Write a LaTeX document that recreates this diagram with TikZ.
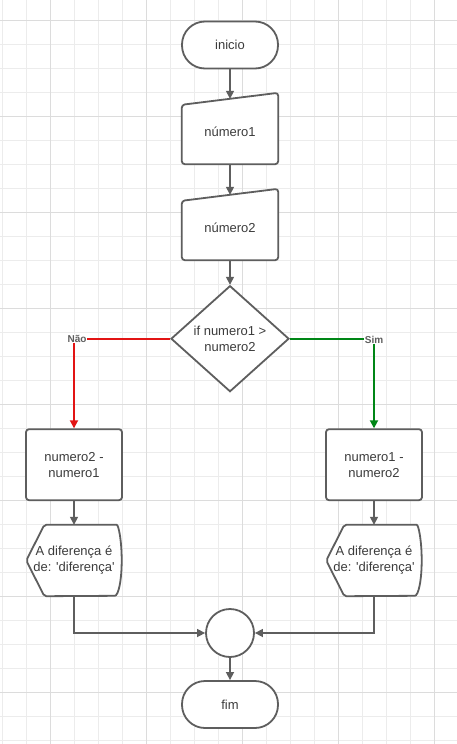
\documentclass[tikz,border=0pt]{standalone}
\usepackage{fontspec}
\setmainfont{Liberation Sans}
\usepackage{tikz}
\usetikzlibrary{arrows.meta,shapes.geometric,positioning,calc,backgrounds}
\definecolor{linegray}{RGB}{94,94,94}
\definecolor{textgray}{RGB}{60,60,60}
\definecolor{gridthin}{RGB}{236,236,236}
\definecolor{gridthick}{RGB}{220,220,220}
\definecolor{naored}{RGB}{226,20,20}
\definecolor{simgreen}{RGB}{0,134,22}

\begin{document}
\begin{tikzpicture}[
  x=1pt, y=-1pt,
  every node/.style={font=\fontsize{13}{16}\selectfont, text=textgray},
  terminal/.style={
    draw=linegray, line width=1.8pt, rectangle, fill=white,
    rounded corners=23pt, minimum width=96pt, minimum height=47pt},
  inbox/.style={
    rectangle, inner sep=0pt, minimum width=96pt, minimum height=65pt},
  procbox/.style={
    draw=linegray, line width=1.8pt, rectangle, fill=white, align=center,
    rounded corners=3pt, minimum width=96pt, minimum height=71pt},
  showbox/.style={
    rectangle, inner sep=0pt, align=center,
    minimum width=95pt, minimum height=71pt},
  outline/.style={draw=linegray, line width=1.8pt, fill=white, rounded corners=3pt},
  flow/.style={draw=linegray, line width=1.5pt, -{Triangle[length=8pt,width=8pt]}},
  lbl/.style={font=\fontsize{10}{12}\selectfont\bfseries, text=linegray,
    fill=white, inner sep=1pt}
]

\useasboundingbox (0,0) rectangle (457,744);

% ----------------------
% Grid paper
% ----------------------
\begin{scope}[on background layer]
  \fill[white] (0,0) rectangle (457,744);
  \foreach \gx in {0,...,18}
    \draw[gridthin, line width=1pt] ({2.7+24*\gx},0) -- ({2.7+24*\gx},744);
  \foreach \gy in {1,...,31}
    \draw[gridthin, line width=1pt] (0,{-3.3+24*\gy}) -- (457,{-3.3+24*\gy});
  \foreach \gx in {2,6,10,14,18}
    \draw[gridthick, line width=1.2pt] ({2.7+24*\gx},0) -- ({2.7+24*\gx},744);
  \foreach \gy in {1,5,9,13,17,21,25,29}
    \draw[gridthick, line width=1.2pt] (0,{-3.3+24*\gy}) -- (457,{-3.3+24*\gy});
\end{scope}

% ----------------------
% Start and inputs
% ----------------------
\node[terminal] (start) at (230,45) {inicio};

\node[inbox] (num1) at (230,131.5) {número1};
\node[inbox] (num2) at (230,227.5) {número2};

\begin{scope}[on background layer]
  \foreach \nm in {num1,num2}
    \draw[outline] (\nm.south west) -- ([yshift=-6pt]\nm.north west)
      -- ([yshift=6pt]\nm.north east) -- (\nm.south east) -- cycle;
\end{scope}

% ----------------------
% Decision
% ----------------------
\node[
  draw=linegray, line width=1.8pt, diamond, fill=white,
  inner sep=0pt, aspect=1.1,
  minimum width=118pt, minimum height=106pt,
  align=center
] (dec) at (230,338.7)
{if numero1 >\\numero2};

% ----------------------
% Branches
% ----------------------
\node[procbox] (res2) at (74,464.7) {numero2 -\\numero1};
\node[procbox] (res1) at (374,464.7) {numero1 -\\numero2};

\node[showbox] (sd2) at (74,560.5) {A diferença é\\de: \textquotesingle diferença\textquotesingle};
\node[showbox] (sd1) at (374,560.5) {A diferença é\\de: \textquotesingle diferença\textquotesingle};

\begin{scope}[on background layer]
  \foreach \nm in {sd1,sd2}
    \draw[outline, rounded corners=2pt] (\nm.west) -- ([xshift=18pt]\nm.north west)
      -- ([xshift=-7pt]\nm.north east) {[sharp corners]
      arc[start angle=90, end angle=-90, x radius=7pt, y radius=35.5pt]}
      -- ([xshift=18pt]\nm.south west) -- cycle;
\end{scope}

% ----------------------
% Join and end
% ----------------------
\node[draw=linegray, line width=1.8pt, circle, fill=white,
  minimum size=48pt, inner sep=0pt] (join) at (230,633) {};

\node[terminal] (stop) at (230,704.5) {fim};

% ----------------------
% Connectors
% ----------------------
\draw[flow] (start) -- (num1);
\draw[flow] (num1) -- (num2);
\draw[flow] (num2) -- (dec);

\draw[flow, draw=naored, line width=1.8pt] (dec.west)
  -| node[lbl, xshift=3pt] (nao) {Não} (res2.north);
\draw[flow, draw=simgreen, line width=1.8pt] (dec.east)
  -| node[lbl, yshift=-1pt] (sim) {Sim} (res1.north);

\draw[flow] (res2) -- (sd2);
\draw[flow] (res1) -- (sd1);

\draw[flow] (sd2.south) |- (join.west);
\draw[flow] (sd1.south) |- (join.east);
\draw[flow] (join) -- (stop);

\end{tikzpicture}
\end{document}
